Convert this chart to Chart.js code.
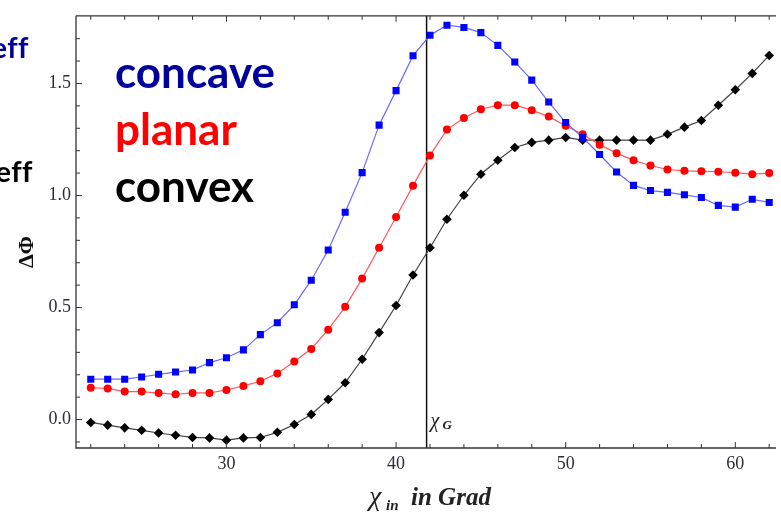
<!DOCTYPE html>
<html>
<head>
<meta charset="utf-8">
<script src="https://cdn.jsdelivr.net/npm/chart.js@4.4.1/dist/chart.umd.min.js"></script>
<style>
  html, body { margin: 0; padding: 0; background: #fff; }
  #wrap { width: 781px; height: 517px; position: relative; }
</style>
</head>
<body>
<div id="wrap"><canvas id="myChart"></canvas></div>
<script>
// angle of incidence (degrees)
const xValues = [22, 23, 24, 25, 26, 27, 28, 29, 30, 31, 32, 33, 34, 35, 36, 37, 38, 39, 40, 41,
                 42, 43, 44, 45, 46, 47, 48, 49, 50, 51, 52, 53, 54, 55, 56, 57, 58, 59, 60, 61, 62];

const concave = [0.180, 0.180, 0.180, 0.190, 0.202, 0.212, 0.221, 0.254, 0.276, 0.311, 0.379, 0.432, 0.512, 0.622,
                 0.757, 0.925, 1.102, 1.314, 1.468, 1.624, 1.715, 1.760, 1.750, 1.727, 1.670, 1.596, 1.515, 1.417,
                 1.326, 1.259, 1.183, 1.105, 1.045, 1.022, 1.014, 1.003, 0.991, 0.956, 0.948, 0.983, 0.969];

const planar = [0.142, 0.139, 0.125, 0.125, 0.118, 0.113, 0.119, 0.119, 0.132, 0.150, 0.171, 0.206, 0.259, 0.315,
                0.401, 0.503, 0.629, 0.767, 0.904, 1.044, 1.179, 1.294, 1.346, 1.385, 1.403, 1.403, 1.381, 1.352,
                1.311, 1.273, 1.227, 1.189, 1.157, 1.134, 1.116, 1.110, 1.108, 1.106, 1.102, 1.095, 1.100];

const convex = [-0.013, -0.025, -0.037, -0.048, -0.060, -0.070, -0.080, -0.082, -0.092, -0.082, -0.080, -0.057, -0.022, 0.023,
                0.090, 0.164, 0.269, 0.388, 0.509, 0.645, 0.767, 0.894, 1.001, 1.095, 1.157, 1.214, 1.237, 1.247,
                1.259, 1.247, 1.247, 1.247, 1.247, 1.247, 1.273, 1.305, 1.335, 1.403, 1.472, 1.545, 1.625];

const xTicks = [30, 40, 50, 60];
const xMinorTicks = [22, 24, 26, 28, 32, 34, 36, 38, 42, 44, 46, 48, 52, 54, 56, 58, 62];
const yTicks = [0.0, 0.5, 1.0, 1.5];
const yMinorTicks = [-0.1, 0.1, 0.2, 0.3, 0.4, 0.6, 0.7, 0.8, 0.9, 1.1, 1.2, 1.3, 1.4, 1.6, 1.7];
const chiG = 41.8;

const toPoints = arr => xValues.map((x, i) => ({ x: x, y: arr[i] }));

// frame, inward ticks, chi_G line and annotation texts
const decorPlugin = {
    id: 'decor',
    beforeDatasetsDraw(chart) {
        const ctx = chart.ctx;
        const a = chart.chartArea;
        const gx = chart.scales.x.getPixelForValue(chiG);
        ctx.save();
        ctx.strokeStyle = '#111';
        ctx.lineWidth = 1.5;
        ctx.beginPath();
        ctx.moveTo(gx, a.top);
        ctx.lineTo(gx, a.bottom);
        ctx.stroke();
        ctx.restore();
    },
    afterDraw(chart) {
        const ctx = chart.ctx;
        const a = chart.chartArea;
        const xs = chart.scales.x;
        const ys = chart.scales.y;
        ctx.save();

        // frame
        ctx.strokeStyle = '#333';
        ctx.lineWidth = 1.3;
        ctx.beginPath();
        ctx.moveTo(a.left, a.top);
        ctx.lineTo(a.left, a.bottom);
        ctx.lineTo(a.right, a.bottom);
        ctx.moveTo(a.left, a.top);
        ctx.lineTo(a.right, a.top);
        ctx.stroke();

        // ticks pointing inward
        ctx.lineWidth = 1;
        ctx.beginPath();
        xTicks.concat(xMinorTicks).forEach(v => {
            const len = xTicks.includes(v) ? 6 : 4;
            const px = xs.getPixelForValue(v);
            ctx.moveTo(px, a.bottom); ctx.lineTo(px, a.bottom - len);
            ctx.moveTo(px, a.top); ctx.lineTo(px, a.top + len);
        });
        yTicks.concat(yMinorTicks).forEach(v => {
            const len = yTicks.includes(v) ? 6 : 4;
            const py = ys.getPixelForValue(v);
            ctx.moveTo(a.left, py); ctx.lineTo(a.left + len, py);
        });
        ctx.stroke();

        // chi_G label
        const gx = xs.getPixelForValue(chiG);
        ctx.fillStyle = '#222';
        ctx.textBaseline = 'alphabetic';
        ctx.font = 'italic 20px "Liberation Serif"';
        ctx.fillText('χ', gx + 4, 427);
        ctx.font = 'bold italic 13px "Liberation Serif"';
        ctx.fillText('G', gx + 16, 429);

        // x axis title
        ctx.fillStyle = '#222';
        ctx.font = 'italic 28px "Liberation Serif"';
        ctx.fillText('χ', 369, 505);
        ctx.font = 'bold italic 15px "Liberation Serif"';
        ctx.fillText('in', 386, 510);
        ctx.font = 'bold italic 25px "Liberation Serif"';
        ctx.fillText('in Grad', 411, 505);

        // y axis title (rotated)
        ctx.save();
        ctx.translate(33, 252);
        ctx.rotate(-Math.PI / 2);
        ctx.font = 'bold 22px "Liberation Serif"';
        ctx.textAlign = 'center';
        ctx.fillStyle = '#111';
        ctx.fillText('ΔΦ', 0, 0);
        ctx.restore();

        // legend words
        ctx.font = 'bold 44px Lato';
        ctx.textAlign = 'left';
        ctx.fillStyle = '#00009b';
        ctx.fillText('concave', 115, 88);
        ctx.fillStyle = '#ff0000';
        ctx.fillText('planar', 115, 145);
        ctx.fillStyle = '#000000';
        ctx.fillText('convex', 115, 202);

        // cropped labels at left edge
        ctx.font = 'bold 29px Lato';
        ctx.letterSpacing = '0.5px';
        ctx.textAlign = 'right';
        ctx.fillStyle = '#00009b';
        ctx.fillText('eff', 29, 58);
        ctx.fillStyle = '#000000';
        ctx.fillText('eff', 33, 182);

        ctx.restore();
    }
};

const ctx = document.getElementById('myChart');

new Chart(ctx, {
    type: 'line',
    data: {
        datasets: [{
            label: 'concave',
            data: toPoints(concave),
            borderColor: '#6a6aff',
            backgroundColor: '#0000ff',
            borderWidth: 1.2,
            pointStyle: 'rect',
            pointRadius: 5,
            pointBorderWidth: 0,
            pointBackgroundColor: '#0000ff'
        }, {
            label: 'planar',
            data: toPoints(planar),
            borderColor: '#ff5a5a',
            backgroundColor: '#ff0000',
            borderWidth: 1.2,
            pointStyle: 'circle',
            pointRadius: 4,
            pointBorderWidth: 0,
            pointBackgroundColor: '#ff0000'
        }, {
            label: 'convex',
            data: toPoints(convex),
            borderColor: '#444444',
            backgroundColor: '#000000',
            borderWidth: 1.2,
            pointStyle: 'rectRot',
            pointRadius: 4.8,
            pointBorderWidth: 0,
            pointBackgroundColor: '#000000'
        }]
    },
    options: {
        responsive: true,
        maintainAspectRatio: false,
        animation: false,
        layout: { padding: { top: 6, right: 0, left: 0, bottom: 0 } },
        plugins: {
            legend: { display: false },
            tooltip: { enabled: false }
        },
        scales: {
            x: {
                type: 'linear',
                min: 21.13,
                max: 62.40,
                grid: { display: false, drawTicks: false },
                border: { display: false },
                afterBuildTicks: scale => { scale.ticks = xTicks.map(v => ({ value: v })); },
                afterFit: scale => { scale.height = 69; },
                ticks: {
                    padding: 5,
                    maxRotation: 0,
                    color: '#2b2b40',
                    font: { family: '"Liberation Serif"', size: 18 },
                    callback: v => String(v)
                }
            },
            y: {
                min: -0.127,
                max: 1.802,
                grid: { display: false, drawTicks: false },
                border: { display: false },
                afterBuildTicks: scale => { scale.ticks = yTicks.map(v => ({ value: v })); },
                afterFit: scale => { scale.width = 76; },
                ticks: {
                    padding: 5,
                    color: '#2b2b40',
                    font: { family: '"Liberation Serif"', size: 18 },
                    callback: v => v.toFixed(1)
                }
            }
        }
    },
    plugins: [decorPlugin]
});
</script>
</body>
</html>
